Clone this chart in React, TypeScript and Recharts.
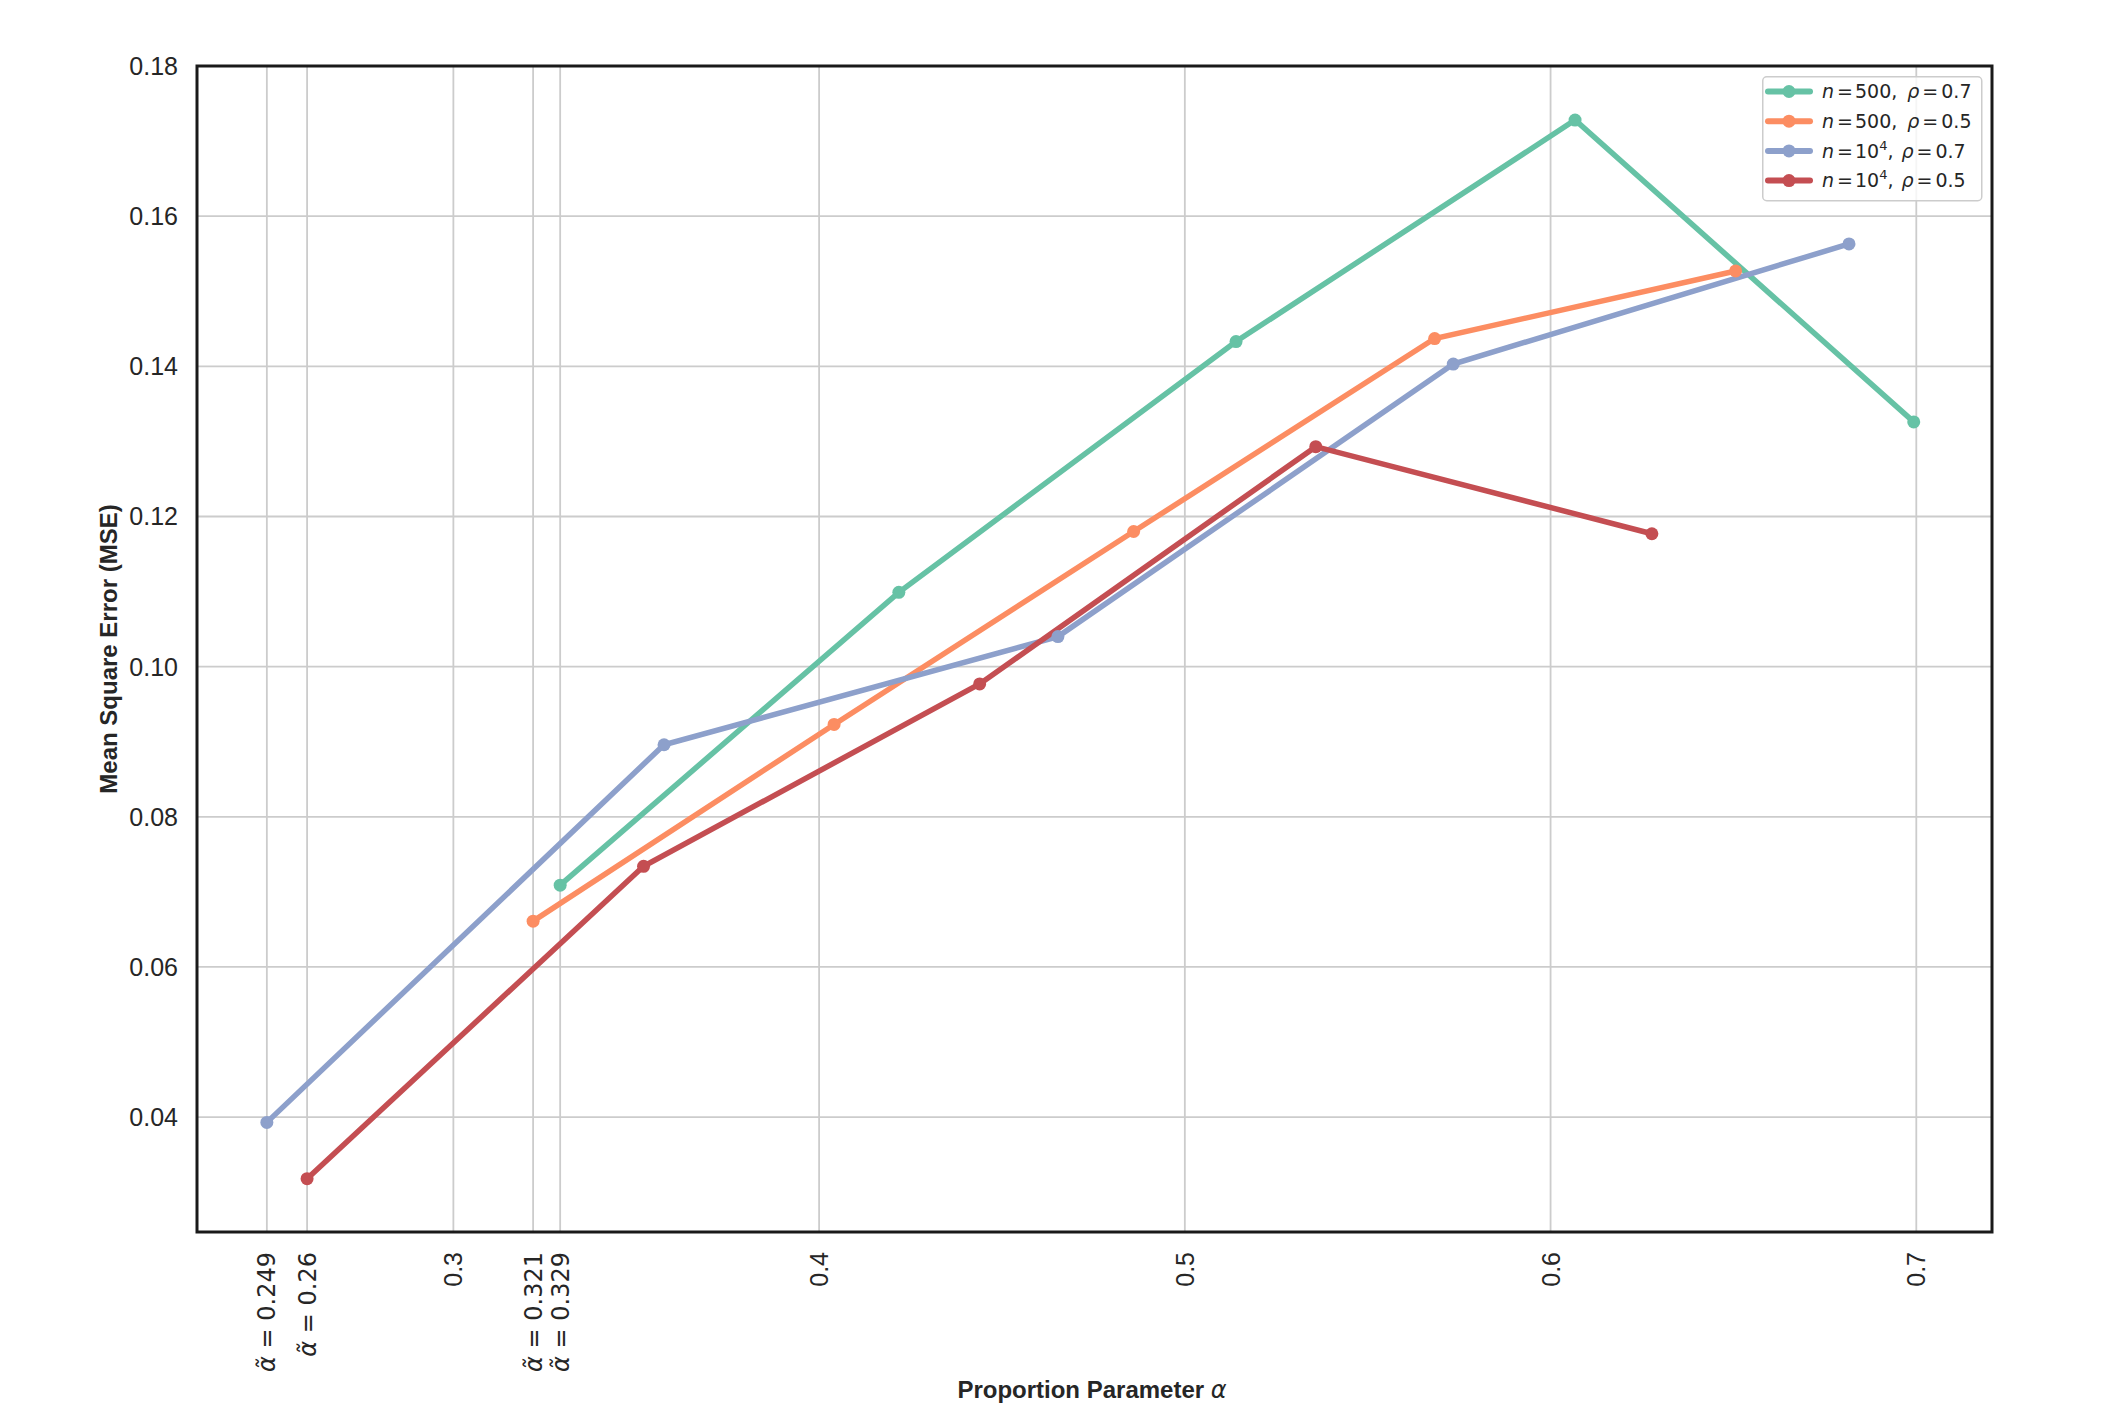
import React from "react";
import {
  CartesianGrid,
  Label,
  Legend,
  Line,
  LineChart,
  ReferenceArea,
  XAxis,
  YAxis,
} from "recharts";

// values
const xTicks = [0.249, 0.26, 0.3, 0.3218, 0.3292, 0.4, 0.5, 0.6, 0.7];
const xTickText = ["0.249", "0.26", "0.3", "0.321", "0.329", "0.4", "0.5", "0.6", "0.7"];
const xTickIsAlpha = [true, true, false, true, true, false, false, false, false];
const yTicks = [0.04, 0.06, 0.08, 0.1, 0.12, 0.14, 0.16, 0.18];

const alphaN500Rho07 = [0.3292, 0.4218, 0.514, 0.6067, 0.6993];
const mseN500Rho07 = [0.0709, 0.1099, 0.1433, 0.1728, 0.1326];

const alphaN500Rho05 = [0.3218, 0.4041, 0.486, 0.5683, 0.6506];
const mseN500Rho05 = [0.0661, 0.0923, 0.118, 0.1437, 0.1527];

const alphaN1e4Rho07 = [0.249, 0.3576, 0.4653, 0.5734, 0.6816];
const mseN1e4Rho07 = [0.0393, 0.0896, 0.104, 0.1403, 0.1563];

const alphaN1e4Rho05 = [0.26, 0.352, 0.4439, 0.5358, 0.6277];
const mseN1e4Rho05 = [0.0318, 0.0734, 0.0977, 0.1293, 0.1177];

const X_DOMAIN: [number, number] = [0.2299, 0.7207];
const Y_DOMAIN: [number, number] = [0.0247, 0.18];

const TEXT = "#262626";
const SANS = "'Liberation Sans', Arial, Helvetica, sans-serif";
const MATH = "'DejaVu Sans', sans-serif";

type Point = { x: number; y: number };
type Series = { key: string; n: string; sup?: string; rho: string; color: string; data: Point[] };

const zip = (xs: number[], ys: number[]): Point[] =>
  xs.map((x, i) => ({ x, y: ys[i] }));

const series: Series[] = [
  { key: "a", n: "500", rho: "0.7", color: "#66c2a5", data: zip(alphaN500Rho07, mseN500Rho07) },
  { key: "b", n: "500", rho: "0.5", color: "#fc8d62", data: zip(alphaN500Rho05, mseN500Rho05) },
  { key: "c", n: "10", sup: "4", rho: "0.7", color: "#8da0cb", data: zip(alphaN1e4Rho07, mseN1e4Rho07) },
  { key: "d", n: "10", sup: "4", rho: "0.5", color: "#c44e52", data: zip(alphaN1e4Rho05, mseN1e4Rho05) },
];

function XTick(props: any) {
  const { x, y, payload } = props;
  const i = xTicks.indexOf(payload.value as number);
  const text = i >= 0 ? xTickText[i] : String(payload.value);
  const isAlpha = i >= 0 && xTickIsAlpha[i];
  return (
    <text
      x={x}
      y={y}
      transform={`rotate(-90, ${x}, ${y})`}
      textAnchor="end"
      dy="0.36em"
      fontSize={isAlpha ? 24 : 25}
      fontFamily={isAlpha ? MATH : SANS}
      fill={TEXT}
    >
      {isAlpha && <tspan fontStyle="italic">α̃</tspan>}
      {isAlpha ? ` = ${text}` : text}
    </text>
  );
}

function LegendBox() {
  return (
    <svg width={222} height={126} style={{ display: "block" }}>
      <rect
        x={0.75}
        y={0.75}
        width={219}
        height={124}
        rx={4}
        fill="#ffffff"
        fillOpacity={0.8}
        stroke="#cccccc"
        strokeWidth={1.5}
      />
      {series.map((s, i) => {
        const cy = 15.5 + i * 29.7;
        return (
          <g key={s.key}>
            <line x1={6} x2={48} y1={cy} y2={cy} stroke={s.color} strokeWidth={6} strokeLinecap="round" />
            <circle cx={27} cy={cy} r={6.5} fill={s.color} />
            <text x={60} y={cy} dy="0.36em" fontSize={19} fontFamily={MATH} fill={TEXT}>
              <tspan fontStyle="italic">n</tspan>
              <tspan dx={3}>=</tspan>
              <tspan dx={2}>{s.n}</tspan>
              {s.sup && (
                <tspan fontSize={13} dy={-8}>
                  {s.sup}
                </tspan>
              )}
              <tspan dy={s.sup ? 8 : 0}>,</tspan>
              <tspan dx={s.sup ? 8 : 10} fontStyle="italic">ρ</tspan>
              <tspan dx={3}>=</tspan>
              <tspan dx={3}>{s.rho}</tspan>
            </text>
          </g>
        );
      })}
    </svg>
  );
}

export default function App() {
  return (
    <div
      style={{
        position: "absolute",
        left: 0,
        top: 0,
        width: 2116,
        height: 1418,
        background: "#ffffff",
      }}
    >
      <LineChart
        width={2116}
        height={1418}
        margin={{ top: 66, right: 124, bottom: 0, left: 0 }}
      >
        <CartesianGrid stroke="#cccccc" strokeWidth={1.8} />
        <XAxis
          type="number"
          dataKey="x"
          domain={X_DOMAIN}
          allowDataOverflow
          ticks={xTicks}
          interval={0}
          height={186}
          tickLine={false}
          axisLine={false}
          tickSize={0}
          tickMargin={20}
          tick={<XTick />}
        >
          <Label
            content={(p: any) => {
              const vb = p.viewBox;
              return (
                <text
                  x={1092}
                  y={vb.y + 166}
                  textAnchor="middle"
                  fontSize={24}
                  fontWeight="bold"
                  fontFamily={SANS}
                  fill={TEXT}
                >
                  Proportion Parameter{" "}
                  <tspan fontFamily={MATH} fontWeight="normal" fontStyle="italic">
                    α
                  </tspan>
                </text>
              );
            }}
          />
        </XAxis>
        <YAxis
          type="number"
          domain={Y_DOMAIN}
          allowDataOverflow
          ticks={yTicks}
          interval={0}
          width={197}
          tickLine={false}
          axisLine={false}
          tickSize={0}
          tickMargin={19}
          tickFormatter={(v: number) => v.toFixed(2)}
          tick={{ fontSize: 25, fontFamily: SANS, fill: TEXT }}
        >
          <Label
            content={(p: any) => {
              const vb = p.viewBox;
              const cx = vb.x + 108;
              const cy = vb.y + vb.height / 2;
              return (
                <text
                  x={cx}
                  y={cy}
                  transform={`rotate(-90, ${cx}, ${cy})`}
                  textAnchor="middle"
                  dy="0.36em"
                  fontSize={24}
                  fontWeight="bold"
                  fontFamily={SANS}
                  fill={TEXT}
                >
                  Mean Square Error (MSE)
                </text>
              );
            }}
          />
        </YAxis>
        <ReferenceArea
          x1={X_DOMAIN[0]}
          x2={X_DOMAIN[1]}
          y1={Y_DOMAIN[0]}
          y2={Y_DOMAIN[1]}
          fill="none"
          stroke="#1a1a1a"
          strokeWidth={3}
          ifOverflow="visible"
        />
        {series.map((s) => (
          <Line
            key={s.key}
            data={s.data}
            dataKey="y"
            type="linear"
            stroke={s.color}
            strokeWidth={5.5}
            dot={{ r: 6.5, fill: s.color, stroke: "none" }}
            activeDot={false}
            isAnimationActive={false}
          />
        ))}
        <Legend
          layout="vertical"
          align="center"
          verticalAlign="middle"
          wrapperStyle={{ left: 1762, top: 76, width: 222 }}
          content={() => <LegendBox />}
        />
      </LineChart>
    </div>
  );
}
